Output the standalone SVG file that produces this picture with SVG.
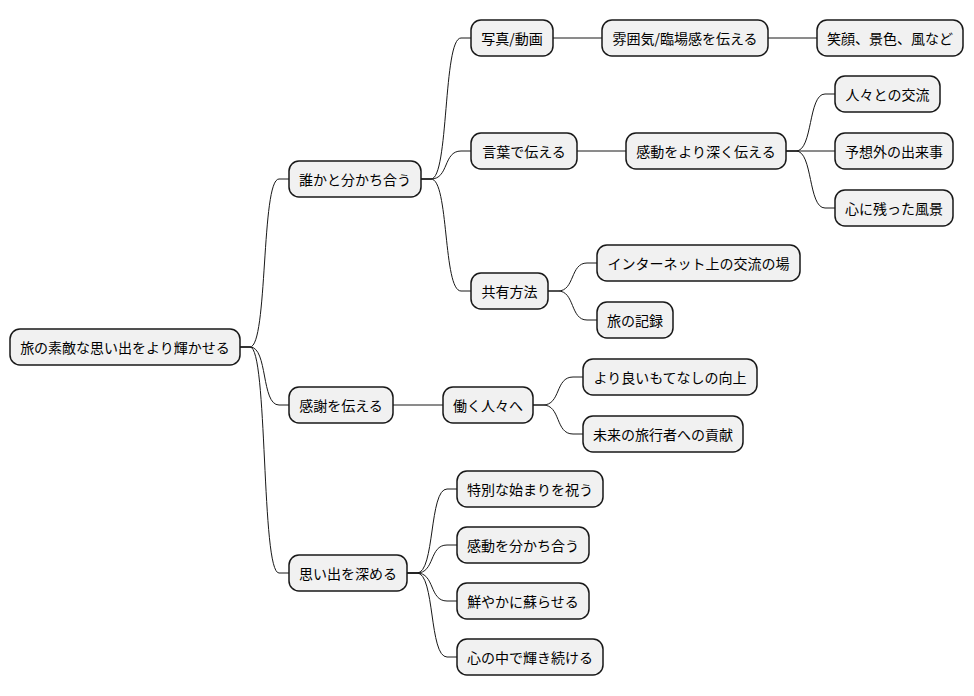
<svg xmlns="http://www.w3.org/2000/svg" width="974" height="696" viewBox="0 0 974 696">
<style>
.n rect{fill:#F1F1F1;stroke:#181818;stroke-width:1.5}
.n text{font-family:"Noto Sans CJK JP","Noto Sans",sans-serif;font-size:14px;fill:#000;text-anchor:middle;dominant-baseline:central}
#c path{fill:none;stroke:#181818;stroke-width:1}
</style>
<rect width="974" height="696" fill="#fff"/>
<g id="c">
<path d="M240,347 L250,347 C268,347 261,179 279,179 L289,179"/>
<path d="M240,347 L250,347 C268,347 261,405 279,405 L289,405"/>
<path d="M240,347 L250,347 C268,347 261,573 279,573 L289,573"/>
<path d="M421,179 L431,179 C449,179 443,38 461,38 L471,38"/>
<path d="M421,179 L431,179 C449,179 443,151 461,151 L471,151"/>
<path d="M421,179 L431,179 C449,179 443,291 461,291 L471,291"/>
<path d="M553,38 L602,38"/>
<path d="M768,38 L817,38"/>
<path d="M577,151 L626,151"/>
<path d="M786,151 L796,151 C813,151 808,94 825,94 L835,94"/>
<path d="M786,151 L835,151"/>
<path d="M786,151 L796,151 C813,151 808,208 825,208 L835,208"/>
<path d="M548,291 L558,291 C575,291 570,263 587,263 L597,263"/>
<path d="M548,291 L558,291 C575,291 570,320 587,320 L597,320"/>
<path d="M393,405 L443,405"/>
<path d="M533,405 L543,405 C561,405 555,377 573,377 L583,377"/>
<path d="M533,405 L543,405 C561,405 555,434 573,434 L583,434"/>
<path d="M407,573 L417,573 C435,573 429,489 447,489 L457,489"/>
<path d="M407,573 L417,573 C435,573 429,545 447,545 L457,545"/>
<path d="M407,573 L417,573 C435,573 429,601 447,601 L457,601"/>
<path d="M407,573 L417,573 C435,573 429,657 447,657 L457,657"/>
</g>
<g id="root" class="n"><rect x="10" y="329" width="230" height="36" rx="10"/><text x="125" y="347">旅の素敵な思い出をより輝かせる</text></g>
<g id="n1" class="n"><rect x="289" y="161" width="132" height="36" rx="10"/><text x="355" y="179">誰かと分かち合う</text></g>
<g id="n2" class="n"><rect x="289" y="387" width="104" height="36" rx="10"/><text x="341" y="405">感謝を伝える</text></g>
<g id="n3" class="n"><rect x="289" y="555" width="118" height="36" rx="10"/><text x="348" y="573">思い出を深める</text></g>
<g id="n4" class="n"><rect x="471" y="20" width="82" height="36" rx="10"/><text x="512" y="38">写真/動画</text></g>
<g id="n5" class="n"><rect x="602" y="20" width="166" height="36" rx="10"/><text x="685" y="38">雰囲気/臨場感を伝える</text></g>
<g id="n6" class="n"><rect x="817" y="20" width="146" height="36" rx="10"/><text x="890" y="38">笑顔、景色、風など</text></g>
<g id="n7" class="n"><rect x="471" y="133" width="106" height="36" rx="10"/><text x="524" y="151">言葉で伝える</text></g>
<g id="n8" class="n"><rect x="626" y="133" width="160" height="36" rx="10"/><text x="706" y="151">感動をより深く伝える</text></g>
<g id="n9" class="n"><rect x="835" y="76" width="105" height="36" rx="10"/><text x="887.5" y="94">人々との交流</text></g>
<g id="n10" class="n"><rect x="835" y="133" width="118" height="36" rx="10"/><text x="894" y="151">予想外の出来事</text></g>
<g id="n11" class="n"><rect x="835" y="190" width="118" height="36" rx="10"/><text x="894" y="208">心に残った風景</text></g>
<g id="n12" class="n"><rect x="471" y="273" width="77" height="36" rx="10"/><text x="509.5" y="291">共有方法</text></g>
<g id="n13" class="n"><rect x="597" y="245" width="203" height="36" rx="10"/><text x="698.5" y="263">インターネット上の交流の場</text></g>
<g id="n14" class="n"><rect x="597" y="302" width="76" height="36" rx="10"/><text x="635" y="320">旅の記録</text></g>
<g id="n15" class="n"><rect x="443" y="387" width="90" height="36" rx="10"/><text x="488" y="405">働く人々へ</text></g>
<g id="n16" class="n"><rect x="583" y="359" width="174" height="36" rx="10"/><text x="670" y="377">より良いもてなしの向上</text></g>
<g id="n17" class="n"><rect x="583" y="416" width="160" height="36" rx="10"/><text x="663" y="434">未来の旅行者への貢献</text></g>
<g id="n18" class="n"><rect x="457" y="471" width="146" height="36" rx="10"/><text x="530" y="489">特別な始まりを祝う</text></g>
<g id="n19" class="n"><rect x="457" y="527" width="132" height="36" rx="10"/><text x="523" y="545">感動を分かち合う</text></g>
<g id="n20" class="n"><rect x="457" y="583" width="132" height="36" rx="10"/><text x="523" y="601">鮮やかに蘇らせる</text></g>
<g id="n21" class="n"><rect x="457" y="639" width="146" height="36" rx="10"/><text x="530" y="657">心の中で輝き続ける</text></g>
</svg>
